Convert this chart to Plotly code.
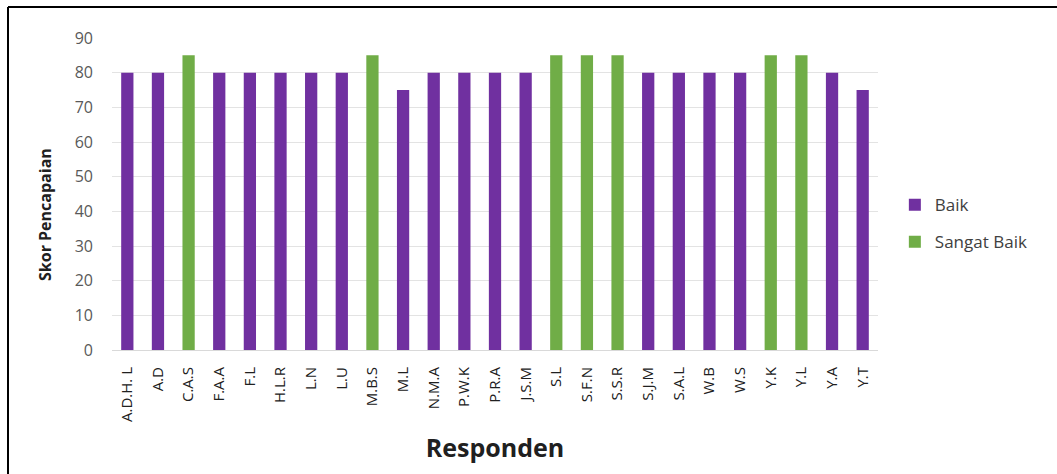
import plotly.graph_objects as go

responden = ["A.D.H. L", "A.D", "C.A.S", "F.A.A", "F.L", "H.L.R", "L.N", "L.U", "M.B.S", "M.L",
             "N.M.A", "P.W.K", "P.R.A", "J.S.M", "S.L", "S.F.N", "S.S.R", "S.J.M", "S.A.L", "W.B",
             "W.S", "Y.K", "Y.L", "Y.A", "Y.T"]
skor = [80, 80, 85, 80, 80, 80, 80, 80, 85, 75,
        80, 80, 80, 80, 85, 85, 85, 80, 80, 80,
        80, 85, 85, 80, 75]
kategori = ["Baik", "Baik", "Sangat Baik", "Baik", "Baik", "Baik", "Baik", "Baik", "Sangat Baik", "Baik",
            "Baik", "Baik", "Baik", "Baik", "Sangat Baik", "Sangat Baik", "Sangat Baik", "Baik", "Baik", "Baik",
            "Baik", "Sangat Baik", "Sangat Baik", "Baik", "Baik"]
y_ticks = [0, 10, 20, 30, 40, 50, 60, 70, 80, 90]

colors = {"Baik": "#7030A0", "Sangat Baik": "#70AD47"}

fig = go.Figure()
for k in ["Baik", "Sangat Baik"]:
    fig.add_trace(go.Bar(
        x=responden,
        y=[s if c == k else None for s, c in zip(skor, kategori)],
        name=k, legendgroup=k,
        marker=dict(color=colors[k], line=dict(width=0)),
    ))

W, H = 1057, 474
ml, mr, mt, mb = 112, 179, 38, 124
pw, ph = W - ml - mr, H - mt - mb

fig.update_layout(
    width=W, height=H,
    margin=dict(l=ml, r=mr, t=mt, b=mb),
    barmode="overlay",
    bargap=0.6,
    plot_bgcolor="white", paper_bgcolor="white",
    font=dict(family="Open Sans, Noto Sans, sans-serif", color="#404040"),
    legend=dict(x=1.022, y=0.405, xanchor="left", yanchor="middle",
                font=dict(size=17, color="#404040"), tracegroupgap=12,
                traceorder="grouped", itemsizing="constant"),
    xaxis=dict(
        categoryorder="array", categoryarray=responden,
        tickangle=-90, tickfont=dict(size=15, color="#202020"),
        ticklabelstandoff=10,
        showgrid=False, showline=True, linecolor="#d9d9d9", linewidth=1,
        ticks="", ticklen=0,
        title=dict(text="<b>Responden</b>", font=dict(size=25, color="#202020"), standoff=18),
    ),
    yaxis=dict(
        range=[0, 90], tickvals=y_ticks,
        tickfont=dict(size=16, color="#595959"),
        ticklabelstandoff=18,
        showgrid=True, gridcolor="#e3e3e3", gridwidth=1,
        zeroline=False, showline=False, ticks="",
    ),
    annotations=[
        dict(text="<b>Skor Pencapaian</b>", textangle=-90, showarrow=False,
             xref="paper", yref="paper", x=(45 - ml) / pw, y=(H - mb - 215) / ph,
             xanchor="center", yanchor="middle",
             font=dict(size=16, color="#202020")),
    ],
    shapes=[
        dict(type="line", xref="paper", yref="paper",
             x0=(8 - ml) / pw, x1=(W + 5 - ml) / pw,
             y0=(H - mb - 7) / ph, y1=(H - mb - 7) / ph,
             line=dict(color="black", width=2)),
        dict(type="line", xref="paper", yref="paper",
             x0=(8 - ml) / pw, x1=(8 - ml) / pw,
             y0=(H - mb - 7) / ph, y1=-(mb + 5) / ph,
             line=dict(color="black", width=2)),
    ],
)

fig.write_html("out.html")
